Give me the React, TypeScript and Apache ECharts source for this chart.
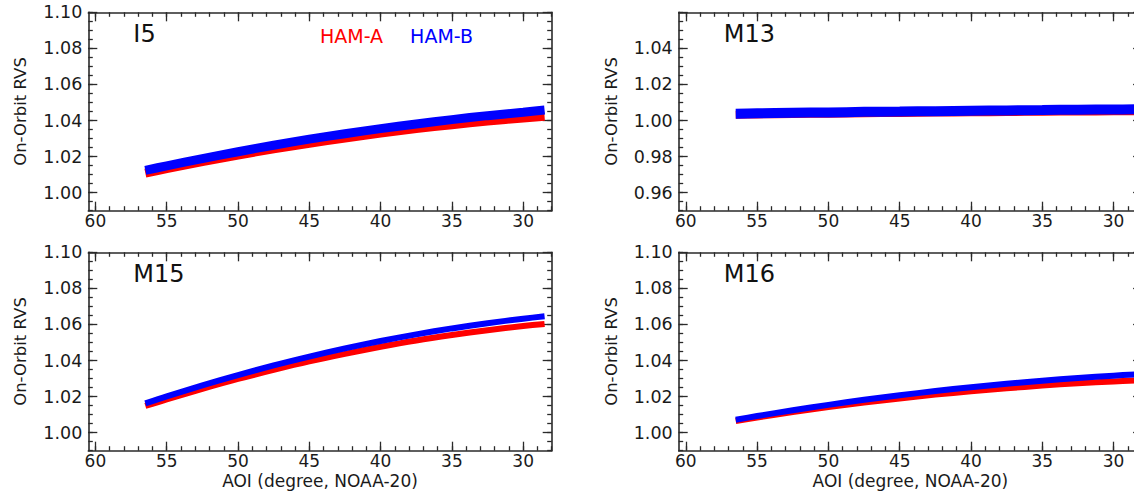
import React, { useEffect, useRef } from "react";
import * as echarts from "echarts";

// ---- data ----
const AOI = [56.5, 55, 52.5, 50, 47.5, 45, 42.5, 40, 37.5, 35, 32.5, 30, 28.5];

const I5_HAM_A = [1.0108, 1.0133, 1.0172, 1.0208, 1.0243, 1.0274, 1.0303, 1.033, 1.0355, 1.0377, 1.0397, 1.0414, 1.0423];
const I5_HAM_B = [1.0124, 1.0149, 1.0189, 1.0227, 1.0263, 1.0297, 1.0327, 1.0355, 1.0381, 1.0405, 1.0427, 1.0446, 1.0458];
const M13_HAM_A = [1.0032, 1.0034, 1.0036, 1.0038, 1.004, 1.0042, 1.0044, 1.0046, 1.0047, 1.0049, 1.005, 1.0051, 1.0052];
const M13_HAM_B = [1.0038, 1.004, 1.0043, 1.0045, 1.0048, 1.005, 1.0052, 1.0054, 1.0056, 1.0058, 1.006, 1.0061, 1.0062];
const M15_HAM_A = [1.0148, 1.0185, 1.0243, 1.0298, 1.0348, 1.0395, 1.0437, 1.0476, 1.0511, 1.0541, 1.0568, 1.0591, 1.0603];
const M15_HAM_B = [1.0162, 1.0201, 1.0262, 1.0319, 1.0373, 1.0422, 1.0467, 1.0508, 1.0545, 1.0578, 1.0607, 1.0632, 1.0645];
const M16_HAM_A = [1.0065, 1.0084, 1.0114, 1.0142, 1.0167, 1.019, 1.0211, 1.0229, 1.0246, 1.0261, 1.0274, 1.0284, 1.0289];
const M16_HAM_B = [1.0072, 1.0092, 1.0124, 1.0154, 1.0182, 1.0207, 1.0231, 1.0252, 1.0271, 1.0288, 1.0303, 1.0316, 1.0323];

const X_TICKS = [30, 35, 40, 45, 50, 55, 60];
const Y_TICKS_STD = [1.0, 1.02, 1.04, 1.06, 1.08, 1.1];
const Y_TICKS_M13 = [0.96, 0.98, 1.0, 1.02, 1.04, 1.06];
const Y_LABELS_M13 = [0.96, 0.98, 1.0, 1.02, 1.04];

const SERIES_NAMES = ["HAM-A", "HAM-B"];
const X_TITLE = "AOI (degree, NOAA-20)";
const Y_TITLE = "On-Orbit RVS";

// ---- layout / style ----
const X_MIN = 28;
const X_MAX = 60.5;
const GRID_W = 463.4;
const GRID_H = 198.4;
const FONT = "'DejaVu Sans', sans-serif";
const INK = "#1a1a1a";
const FRAME = "#2a2a2a";
const RED = "#ff0000";
const BLUE = "#0000ff";

const PANELS = [
  { label: "I5", a: I5_HAM_A, b: I5_HAM_B, yMin: 0.99, yMax: 1.1, yTicks: Y_TICKS_STD, yLabels: Y_TICKS_STD, lw: 9, lwB: 9, left: 88.3, top: 12.3, xTitle: false },
  { label: "M13", a: M13_HAM_A, b: M13_HAM_B, yMin: 0.95, yMax: 1.06, yTicks: Y_TICKS_M13, yLabels: Y_LABELS_M13, lw: 8, lwB: 10, left: 678.7, top: 12.3, xTitle: false },
  { label: "M15", a: M15_HAM_A, b: M15_HAM_B, yMin: 0.99, yMax: 1.1, yTicks: Y_TICKS_STD, yLabels: Y_TICKS_STD, lw: 6, lwB: 6, left: 88.3, top: 252.3, xTitle: true },
  { label: "M16", a: M16_HAM_A, b: M16_HAM_B, yMin: 0.99, yMax: 1.1, yTicks: Y_TICKS_STD, yLabels: Y_TICKS_STD, lw: 6, lwB: 6, left: 678.7, top: 252.3, xTitle: true },
];

function minorX(): number[] {
  const out: number[] = [];
  for (let v = 28; v <= 60; v++) out.push(v);
  return out;
}
function minorY(min: number, max: number): number[] {
  const out: number[] = [];
  const n = Math.round((max - min) / 0.005);
  for (let k = 0; k <= n; k++) out.push(Math.round((min + k * 0.005) * 10000) / 10000);
  return out;
}

function buildOption() {
  const grid: any[] = [];
  const xAxis: any[] = [];
  const yAxis: any[] = [];
  const series: any[] = [];
  const graphic: any[] = [];
  const lineS = { color: FRAME, width: 1.6 };
  const tickS = { color: FRAME, width: 1.3 };
  const xMinor = minorX();

  PANELS.forEach((p, i) => {
    grid.push({ left: p.left, top: p.top, width: GRID_W, height: GRID_H });
    const xb = { type: "value", gridIndex: i, min: X_MIN, max: X_MAX, inverse: true, splitLine: { show: false } };
    xAxis.push({
      ...xb, position: "bottom",
      axisLine: { show: true, onZero: false, lineStyle: lineS },
      axisTick: { show: true, inside: true, length: 9, customValues: X_TICKS, lineStyle: tickS },
      axisLabel: { show: true, customValues: X_TICKS, margin: 3, color: INK, fontSize: 17, lineHeight: 14, fontFamily: FONT, formatter: (v: number) => String(v) },
      name: p.xTitle ? X_TITLE : "", nameLocation: "middle", nameGap: 23.5, nameMoveOverlap: false,
      nameTextStyle: { color: INK, fontSize: 17, lineHeight: 14, fontFamily: FONT },
    });
    xAxis.push({
      ...xb, position: "bottom",
      axisLine: { show: false, onZero: false },
      axisTick: { show: true, inside: true, length: 4.5, customValues: xMinor, lineStyle: tickS },
      axisLabel: { show: false },
    });
    xAxis.push({
      ...xb, position: "top",
      axisLine: { show: true, onZero: false, lineStyle: lineS },
      axisTick: { show: true, inside: true, length: 9, customValues: X_TICKS, lineStyle: tickS },
      axisLabel: { show: false },
    });
    xAxis.push({
      ...xb, position: "top",
      axisLine: { show: false, onZero: false },
      axisTick: { show: true, inside: true, length: 4.5, customValues: xMinor, lineStyle: tickS },
      axisLabel: { show: false },
    });

    const yMinor = minorY(p.yMin, p.yMax);
    const yb = { type: "value", gridIndex: i, min: p.yMin, max: p.yMax, splitLine: { show: false } };
    yAxis.push({
      ...yb, position: "left",
      axisLine: { show: true, onZero: false, lineStyle: lineS },
      axisTick: { show: true, inside: true, length: 9, customValues: p.yTicks, lineStyle: tickS },
      axisLabel: { show: true, customValues: p.yLabels, margin: 6, color: INK, fontSize: 17.5, fontFamily: FONT, formatter: (v: number) => v.toFixed(2) },
      name: Y_TITLE, nameLocation: "middle", nameGap: 59,
      nameTextStyle: { color: INK, fontSize: 16.5, fontFamily: FONT },
    });
    yAxis.push({
      ...yb, position: "left",
      axisLine: { show: false, onZero: false },
      axisTick: { show: true, inside: true, length: 4.5, customValues: yMinor, lineStyle: tickS },
      axisLabel: { show: false },
    });
    yAxis.push({
      ...yb, position: "right",
      axisLine: { show: true, onZero: false, lineStyle: lineS },
      axisTick: { show: true, inside: true, length: 9, customValues: p.yTicks, lineStyle: tickS },
      axisLabel: { show: false },
    });
    yAxis.push({
      ...yb, position: "right",
      axisLine: { show: false, onZero: false },
      axisTick: { show: true, inside: true, length: 4.5, customValues: yMinor, lineStyle: tickS },
      axisLabel: { show: false },
    });

    [p.a, p.b].forEach((vals, s) => {
      const color = s === 0 ? RED : BLUE;
      series.push({
        type: "line",
        name: SERIES_NAMES[s],
        xAxisIndex: 4 * i,
        yAxisIndex: 4 * i,
        data: AOI.map((a, k) => [a, vals[k]]),
        showSymbol: false,
        symbol: "none",
        smooth: 0.3,
        lineStyle: { color, width: s === 0 ? p.lw : p.lwB, cap: "butt" },
        itemStyle: { color },
        z: 2 + s,
      });
    });

    graphic.push({
      type: "text",
      x: p.left + 45,
      y: p.top + 22,
      style: { text: p.label, fontSize: 24, fontFamily: FONT, fill: "#111", align: "left", verticalAlign: "middle" },
    });
  });

  return {
    animation: false,
    backgroundColor: "#ffffff",
    textStyle: { fontFamily: FONT },
    legend: {
      data: [
        { name: SERIES_NAMES[0], icon: "none", textStyle: { color: RED } },
        { name: SERIES_NAMES[1], icon: "none", textStyle: { color: BLUE } },
      ],
      left: 315,
      top: 26,
      padding: 0,
      itemWidth: 0,
      itemHeight: 14,
      itemGap: 22,
      selectedMode: false,
      textStyle: { fontSize: 19, fontFamily: FONT },
    },
    grid,
    xAxis,
    yAxis,
    series,
    graphic,
  };
}

export default function App() {
  const ref = useRef<HTMLDivElement>(null);
  useEffect(() => {
    if (!ref.current) return;
    const chart = echarts.init(ref.current, undefined, { renderer: "svg" });
    chart.setOption(buildOption() as any);
    return () => chart.dispose();
  }, []);
  return (
    <div
      ref={ref}
      style={{ position: "fixed", left: 0, top: 0, width: 1150, height: 495, background: "#fff" }}
    />
  );
}
